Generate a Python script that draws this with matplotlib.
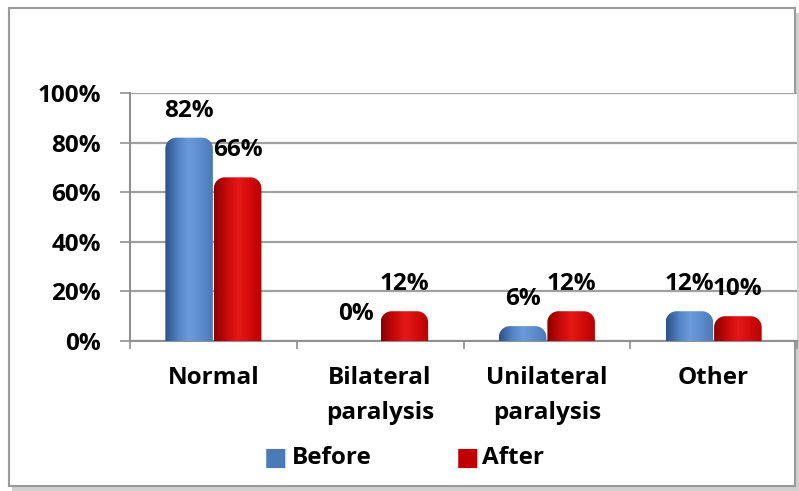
import numpy as np
import matplotlib.pyplot as plt
from matplotlib.patches import Polygon, Rectangle
from matplotlib.colors import LinearSegmentedColormap

categories = ["Normal", "Bilateral\nparalysis", "Unilateral\nparalysis", "Other"]
before = [82, 0, 6, 12]
after = [66, 12, 12, 10]
yticks = [0, 20, 40, 60, 80, 100]

plt.rcParams['font.family'] = ['Open Sans', 'DejaVu Sans']
plt.rcParams['font.weight'] = 'bold'
FS = 17.5

# horizontal shading for the cylinder-like bars
blue_cmap = LinearSegmentedColormap.from_list(
    "blue3d", ["#2c5186", "#4f80c0", "#6b9bda", "#5d8ccc", "#4a79b8"])
red_cmap = LinearSegmentedColormap.from_list(
    "red3d", ["#8a0000", "#c40808", "#e41818", "#d40c0c", "#b80000"])

fig = plt.figure(figsize=(7.99, 4.91), dpi=100)
ax = fig.add_axes([130 / 799, 1 - 341 / 491, 667 / 799, 248 / 491])

# outer frame with a soft shadow
fig.patches.append(Rectangle((12 / 799, 0.5 / 491), 787 / 799, 478 / 491,
                             transform=fig.transFigure, facecolor="#d0d0d0",
                             edgecolor="none", zorder=-2))
fig.patches.append(Rectangle((9 / 799, 5 / 491), 786 / 799, 478 / 491,
                             transform=fig.transFigure, facecolor="white",
                             edgecolor="#9a9a9a", lw=1.5, zorder=-1))

x = np.arange(len(categories))
width = 0.285
gap = 0.006
ax.set_xlim(-0.5, len(categories) - 0.5)
ax.set_ylim(0, 100)

# rounded top radius, in data units (about 11 px each way)
rx = 11 / 166
ry = 11 / 2.48


def rounded_bar(x0, w, h, cmap):
    if h <= 0:
        return
    r_y = min(ry, h * 0.9)
    t = np.linspace(0, np.pi / 2, 20)
    left_arc = np.column_stack([x0 + rx - rx * np.cos(t), h - r_y + r_y * np.sin(t)])
    right_arc = np.column_stack([x0 + w - rx + rx * np.sin(t), h - r_y * (1 - np.cos(t))])
    pts = np.vstack([[[x0, 0]], left_arc, right_arc, [[x0 + w, 0]]])
    poly = Polygon(pts, closed=True, facecolor="none", edgecolor="none")
    ax.add_patch(poly)
    grad = np.linspace(0, 1, 64).reshape(1, -1)
    im = ax.imshow(grad, cmap=cmap, aspect="auto", extent=[x0, x0 + w, 0, h],
                   origin="lower", zorder=3)
    im.set_clip_path(poly)


for i in range(len(categories)):
    rounded_bar(x[i] - width - gap / 2, width, before[i], blue_cmap)
    rounded_bar(x[i] + gap / 2, width, after[i], red_cmap)
    ax.annotate(f"{before[i]}%", (x[i] - width / 2 - gap / 2, before[i]),
                xytext=(0, 27), textcoords="offset pixels", ha="center",
                va="center", fontsize=FS, fontweight="bold", zorder=5)
    ax.annotate(f"{after[i]}%", (x[i] + width / 2 + gap / 2, after[i]),
                xytext=(0, 27), textcoords="offset pixels", ha="center",
                va="center", fontsize=FS, fontweight="bold", zorder=5)

ax.set_yticks(yticks)
ax.set_yticklabels([f"{v}%" for v in yticks], fontsize=FS, fontweight="bold")
ax.grid(axis="y", color="#a0a0a0", lw=1.6, zorder=0)
ax.set_axisbelow(True)

ax.set_xticks(np.arange(-0.5, len(categories), 1.0))
ax.set_xticklabels([])
ax.set_xticks(x, minor=True)
ax.set_xticklabels(categories, minor=True, fontsize=FS, fontweight="bold",
                   linespacing=1.6)
ax.tick_params(axis="x", which="minor", length=0, pad=18)
ax.tick_params(axis="x", which="major", length=6, color="#909090", width=1.2)
ax.tick_params(axis="y", length=7, color="#909090", width=1.2, pad=14)

for side in ["top", "right"]:
    ax.spines[side].set_visible(False)
for side in ["left", "bottom"]:
    ax.spines[side].set_color("#909090")
    ax.spines[side].set_linewidth(1.5)

# legend built from the two series colours
fig.text(276 / 799, 1 - 458 / 491, "\u25a0", color="#4a7ab8", fontsize=18,
         ha="center", va="center", family="DejaVu Sans")
fig.text(292 / 799, 1 - 458 / 491, "Before", fontsize=FS, fontweight="bold",
         ha="left", va="center")
fig.text(468 / 799, 1 - 458 / 491, "\u25a0", color="#c00000", fontsize=18,
         ha="center", va="center", family="DejaVu Sans")
fig.text(482 / 799, 1 - 458 / 491, "After", fontsize=FS, fontweight="bold",
         ha="left", va="center")

fig.savefig("out.png", dpi=100)
